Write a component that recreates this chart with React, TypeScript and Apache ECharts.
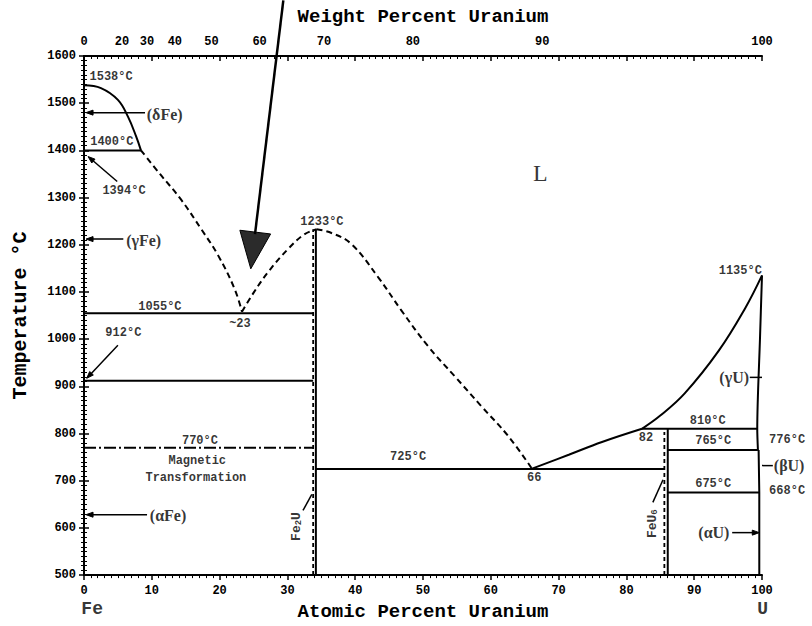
import React, { useEffect, useRef } from 'react';
import * as echarts from 'echarts';

// Top axis: weight percent labels placed at their atomic-percent positions
const wtLabelPos = [0, 5.6, 9.3, 13.4, 18.8, 25.9, 35.4, 48.5, 67.6, 100];
const wtLabels = ['0', '20', '30', '40', '50', '60', '70', '80', '90', '100'];

// Phase boundaries [atomic % U, temperature °C]
const deltaLiquidus = [[0, 1538], [2.5, 1532], [5, 1507], [6.5, 1471], [7.7, 1429], [8.4, 1400]];
const iso1400 = [[0, 1400], [8.4, 1400]];
const feLiquidus = [[8.4, 1400], [11.2, 1350], [14.3, 1296], [17.3, 1233], [19.8, 1177], [22.2, 1107], [23.3, 1058]];
const fe2uLiquidusLeft = [[23.3, 1058], [25, 1098], [27.2, 1143], [30.1, 1191], [32.5, 1222], [34.3, 1233]];
const fe2uLiquidusRight = [[34.3, 1233], [36.5, 1225], [39.4, 1202], [43.4, 1131], [46.8, 1061], [50.8, 984], [54.7, 921], [58.6, 858], [62.6, 794], [66, 727]];
const iso1055 = [[0, 1055], [33.8, 1055]];
const iso912 = [[0, 912], [33.8, 912]];
const magnetic770 = [[0, 770], [33.8, 770]];
const fe2uLeft = [[33.8, 500], [33.8, 1233]];
const fe2uRight = [[34.2, 500], [34.2, 1233]];
const iso725 = [[34.2, 725], [85.6, 725]];
const liquidus66to82 = [[66, 725], [71.5, 755], [76.4, 782], [82.3, 810]];
const liquidus82to100 = [[82.3, 810], [85, 838], [88.6, 885], [93.6, 975], [97.5, 1065], [100, 1135]];
const iso810 = [[82.3, 810], [99.3, 810]];
const feu6Left = [[85.6, 500], [85.6, 803]];
const feu6Right = [[86.1, 500], [86.1, 810]];
const iso765 = [[86.1, 765], [99.4, 765]];
const iso675 = [[86.1, 675], [99.6, 675]];
const gammaUSolvus = [[100, 1135], [99.7, 1000], [99.3, 810], [99.4, 765]];
const alphaUSolvus = [[99.5, 765], [99.6, 675], [99.6, 500]];

// Annotations
const annText = ['1538°C', '1400°C', '1394°C', '(δFe)', '(γFe)', '1233°C', '1055°C', '~23', '912°C', '770°C', 'Magnetic', 'Transformation', '(αFe)', '725°C', '66', '82', '810°C', '765°C', '675°C', '776°C', '(βU)', '668°C', '(γU)', '(αU)', '1135°C', 'L', 'Fe{sub|2}U', 'FeU{sub|6}', 'Fe', 'U'];
const annX = [4.0, 4.1, 5.9, 11.9, 8.8, 35.1, 11.2, 23.0, 5.8, 17.1, 16.7, 16.5, 12.4, 47.8, 66.4, 82.9, 92.0, 92.8, 92.8, 103.7, 104.0, 103.7, 95.9, 92.9, 96.8, 67.3, 31.3, 83.8, 1.2, 100.1];
const annT = [1556, 1417, 1313, 1476, 1208, 1248, 1069, 1033, 1012, 784, 742, 706, 626, 751, 706, 791, 827, 784, 692, 787, 732, 679, 919, 590, 1145, 1353, 603, 609, 428, 428];
const annKind = ['t', 't', 't', 'p', 'p', 't', 't', 't', 't', 't', 's', 's', 'p', 't', 't', 't', 't', 't', 't', 't', 'p', 't', 'p', 'p', 't', 'L', 'r', 'r', 'e', 'e'];

// Pointer arrows [x1, T1] -> [x2, T2]
const arrowFrom = [[9.0, 1480], [5.8, 1212], [9.3, 628], [4.9, 1334], [5.0, 987], [95.6, 590], [98.2, 919], [100, 732], [32.3, 637], [83.9, 654], [29.4, 1718]];
const arrowTo = [[0.3, 1480], [0.3, 1212], [0.3, 628], [0.6, 1387], [0.4, 917], [99.6, 590], [100, 919], [101.6, 732], [33.6, 671], [85.4, 702], [24.6, 1149]];
const arrowKind = ['small', 'small', 'small', 'small', 'small', 'small', 'none', 'none', 'none', 'none', 'big'];

const MONO = 'Liberation Mono';
const SERIF = 'Liberation Serif';

const headSpec: Record<string, [number, number]> = { small: [7, 5], none: [0, 0], big: [37, 31] };

const labelStyles: Record<string, any> = {
  t: { fontFamily: MONO, fontWeight: 'bold', fontSize: 12 },
  s: { fontFamily: MONO, fontWeight: 'bold', fontSize: 12 },
  p: { fontFamily: SERIF, fontWeight: 'bold', fontSize: 16 },
  L: { fontFamily: SERIF, fontWeight: 'normal', fontSize: 24 },
  r: { fontFamily: MONO, fontWeight: 'bold', fontSize: 13, rotate: 90 },
  e: { fontFamily: MONO, fontWeight: 'bold', fontSize: 18 },
};

function phase(data: number[][], kind: 'solid' | 'dash' | 'fine' | 'dashdot', smooth = 0) {
  const type = kind === 'solid' ? 'solid' : kind === 'dash' ? [6, 4] : kind === 'fine' ? [4, 3] : [12, 3, 2, 3];
  return {
    type: 'line',
    data,
    showSymbol: false,
    symbol: 'none',
    smooth,
    silent: true,
    lineStyle: { color: '#000', width: kind === 'fine' ? 1.8 : 2, type },
  };
}

export default function App() {
  const ref = useRef<HTMLDivElement>(null);
  useEffect(() => {
    if (!ref.current) return;
    const chart = echarts.init(ref.current, undefined, { renderer: 'svg' });
    const axisText = { color: '#000', fontFamily: MONO, fontWeight: 'bold', fontSize: 12 };
    const nameText = { color: '#000', fontFamily: MONO, fontWeight: 'bold', fontSize: 19 };
    const axisLine = { show: true, lineStyle: { color: '#000', width: 2 } };
    const plain = (v: number) => String(v);
    const option: any = {
      animation: false,
      backgroundColor: '#fff',
      grid: { left: 84, top: 56, width: 678, height: 522, containLabel: false },
      xAxis: [
        {
          type: 'value', min: 0, max: 100, interval: 10, position: 'bottom',
          axisLine, splitLine: { show: false },
          axisTick: { length: 5, lineStyle: { color: '#000', width: 1.5 } },
          minorTick: { show: true, splitNumber: 10, length: 3, lineStyle: { color: '#000', width: 1 } },
          axisLabel: { ...axisText, margin: 10, formatter: plain },
          name: 'Atomic Percent Uranium', nameLocation: 'middle', nameGap: 25, nameTextStyle: nameText,
        },
        {
          type: 'value', min: 0, max: 100, interval: 10, position: 'top',
          axisLine, splitLine: { show: false },
          axisTick: { inside: true, length: 5, lineStyle: { color: '#000', width: 1.5 } },
          minorTick: { show: true, splitNumber: 10, length: 3, lineStyle: { color: '#000', width: 1 } },
          axisLabel: {
            ...axisText, margin: 8,
            customValues: wtLabelPos,
            formatter: (v: number) => {
              const i = wtLabelPos.findIndex((p) => Math.abs(p - v) < 1e-6);
              return i >= 0 ? wtLabels[i] : '';
            },
          },
          name: 'Weight Percent Uranium', nameLocation: 'middle', nameGap: 30, nameTextStyle: nameText,
        },
      ],
      yAxis: [
        {
          type: 'value', min: 500, max: 1600, interval: 100, position: 'left',
          axisLine, splitLine: { show: false },
          axisTick: { length: 5, lineStyle: { color: '#000', width: 1.5 } },
          minorTick: { show: true, splitNumber: 10, length: 3, lineStyle: { color: '#000', width: 1 } },
          axisLabel: { ...axisText, margin: 8, formatter: plain },
          name: 'Temperature °C', nameLocation: 'middle', nameGap: 54, nameTextStyle: { ...nameText, fontSize: 20 },
        },
        {
          type: 'value', min: 500, max: 1600, interval: 100, position: 'right',
          axisLine, splitLine: { show: false },
          axisTick: { length: 5, lineStyle: { color: '#000', width: 1.5 } },
          minorTick: { show: true, splitNumber: 10, length: 3, lineStyle: { color: '#000', width: 1 } },
          axisLabel: { show: false },
        },
      ],
      series: [
        phase(deltaLiquidus, 'solid', 0.4),
        phase(iso1400, 'solid'),
        phase(feLiquidus, 'dash', 0.4),
        phase(fe2uLiquidusLeft, 'dash', 0.4),
        phase(fe2uLiquidusRight, 'dash', 0.4),
        phase(iso1055, 'solid'),
        phase(iso912, 'solid'),
        phase(magnetic770, 'dashdot'),
        phase(fe2uLeft, 'fine'),
        phase(fe2uRight, 'solid'),
        phase(iso725, 'solid'),
        phase(liquidus66to82, 'solid', 0.4),
        phase(liquidus82to100, 'solid', 0.4),
        phase(iso810, 'solid'),
        phase(feu6Left, 'fine'),
        phase(feu6Right, 'solid'),
        phase(iso765, 'solid'),
        phase(iso675, 'solid'),
        phase(gammaUSolvus, 'solid', 0.3),
        phase(alphaUSolvus, 'solid'),
        {
          type: 'custom',
          clip: false,
          silent: true,
          z: 5,
          data: arrowFrom.map((f, i) => [f[0], f[1], arrowTo[i][0], arrowTo[i][1], i]),
          renderItem: (_params: any, api: any) => {
            const idx = api.value(4);
            const [hl, hw] = headSpec[arrowKind[idx]];
            const big = arrowKind[idx] === 'big';
            const p1 = api.coord([api.value(0), api.value(1)]);
            const p2 = api.coord([api.value(2), api.value(3)]);
            const children: any[] = [];
            let end = p2;
            if (hl > 0) {
              const dx = p2[0] - p1[0];
              const dy = p2[1] - p1[1];
              const len = Math.hypot(dx, dy);
              const ux = dx / len;
              const uy = dy / len;
              const bx = p2[0] - ux * hl;
              const by = p2[1] - uy * hl;
              const nx = -uy;
              const ny = ux;
              children.push({
                type: 'polygon',
                shape: { points: [[p2[0], p2[1]], [bx + (nx * hw) / 2, by + (ny * hw) / 2], [bx - (nx * hw) / 2, by - (ny * hw) / 2]] },
                style: { fill: big ? '#2b2b2b' : '#000', stroke: '#000', lineWidth: 1 },
              });
              end = [bx + ux * 2, by + uy * 2];
            }
            children.push({
              type: 'line',
              shape: { x1: p1[0], y1: p1[1], x2: end[0], y2: end[1] },
              style: { stroke: '#000', lineWidth: big ? 2.5 : 1.5 },
            });
            return { type: 'group', children };
          },
        },
        {
          type: 'scatter',
          clip: false,
          silent: true,
          z: 6,
          symbolSize: 1,
          itemStyle: { color: 'rgba(0,0,0,0)' },
          data: annText.map((t, i) => ({
            value: [annX[i], annT[i]],
            name: t,
            label: labelStyles[annKind[i]],
          })),
          label: {
            show: true,
            position: 'inside',
            color: '#000',
            formatter: (p: any) => p.name,
            rich: {
              sub: { fontSize: 9, fontFamily: MONO, fontWeight: 'bold', color: '#000', padding: [6, 0, 0, 0] },
            },
          },
        },
      ],
    };
    chart.setOption(option);
    return () => chart.dispose();
  }, []);
  return <div ref={ref} style={{ position: 'absolute', left: 0, top: 0, width: 812, height: 626 }} />;
}
